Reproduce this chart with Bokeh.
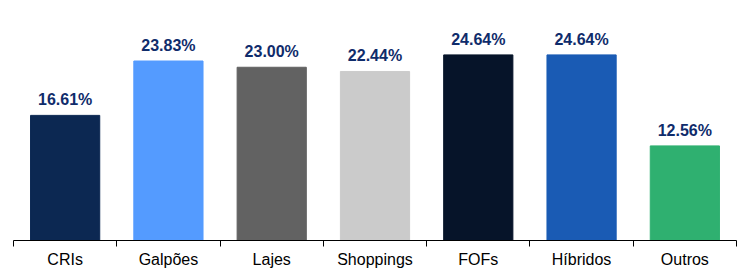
from bokeh.plotting import figure
from bokeh.models import ColumnDataSource, FixedTicker, Range1d, LabelSet
from bokeh.core.properties import value
from bokeh.embed import file_html
from bokeh.resources import INLINE

categories = ["CRIs", "Galpões", "Lajes", "Shoppings", "FOFs", "Híbridos", "Outros"]
values = [16.61, 23.83, 23.00, 22.44, 24.64, 24.64, 12.56]
colors = ["#0c2852", "#549bff", "#626262", "#cbcbcb", "#061429", "#1a5bb4", "#2fb070"]

xs = [i + 0.5 for i in range(len(categories))]
labels = [f"{v:.2f}%" for v in values]

src = ColumnDataSource(dict(x=xs, top=values, color=colors, label=labels))

p = figure(width=742, height=277, output_backend="svg", toolbar_location=None,
           x_range=Range1d(0, len(categories)), y_range=Range1d(0, 30.8),
           min_border_left=13, min_border_right=6, min_border_top=8, min_border_bottom=37)
p.vbar(x="x", top="top", width=0.67, color="color", source=src)

p.add_layout(LabelSet(x="x", y="top", text="label", source=src, text_align="center",
                      text_baseline="bottom", y_offset=7, text_font=value("Liberation Sans"),
                      text_font_style="bold", text_font_size="16px", text_color="#0f2c6b"))

p.xaxis.ticker = FixedTicker(ticks=xs, minor_ticks=list(range(len(categories) + 1)))
p.xaxis.major_label_overrides = {x: c for x, c in zip(xs, categories)}
p.xaxis.major_tick_out = 0
p.xaxis.major_tick_in = 0
p.xaxis.minor_tick_out = 6
p.xaxis.minor_tick_in = 0
p.xaxis.minor_tick_line_color = "#000000"
p.xaxis.axis_line_color = "#000000"
p.xaxis.major_label_text_font = "Liberation Sans"
p.xaxis.major_label_text_font_size = "16px"
p.xaxis.major_label_text_color = "#000000"
p.xaxis.major_label_standoff = 4
p.yaxis.visible = False
p.xgrid.visible = False
p.ygrid.visible = False
p.outline_line_color = None

open("out.html", "w").write(file_html(p, INLINE))
